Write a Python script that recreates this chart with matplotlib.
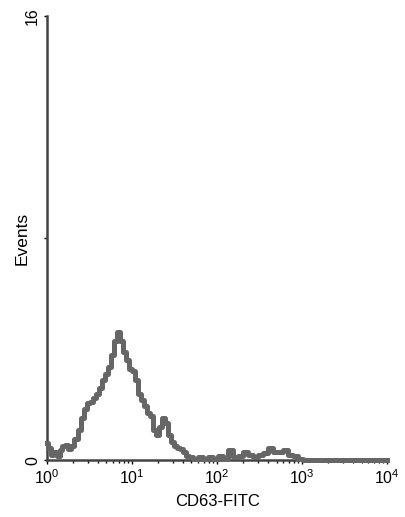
import matplotlib
matplotlib.use("Agg")
import matplotlib.pyplot as plt
from matplotlib.ticker import LogLocator, FixedLocator, NullFormatter

plt.rcParams['font.family'] = ['Liberation Sans', 'DejaVu Sans']
plt.rcParams['mathtext.fontset'] = 'custom'
plt.rcParams['mathtext.rm'] = 'Liberation Sans'

# CD63-FITC fluorescence (bin positions) and event counts
fluor = [1.0, 1.06, 1.145, 1.24, 1.35, 1.46, 1.58, 1.72, 1.86, 2.02, 2.19, 2.38,
         2.58, 2.80, 3.04, 3.29, 3.57, 3.87, 4.20, 4.56, 4.94, 5.36, 5.82, 6.31,
         6.84, 7.42, 8.05, 8.73, 9.47, 10.3, 11.1, 12.1, 13.1, 14.2, 15.4, 16.7,
         18.2, 19.7, 21.3, 23.2, 25.1, 27.2, 29.6, 32.1, 34.8, 37.7, 40.9, 44.4,
         48.1, 55, 63, 72, 83, 95, 108, 124, 142, 163, 186, 214, 245, 280, 321,
         367, 421, 481, 551, 631, 722, 827, 947, 1084, 10000]
events = [0.6, 0.45, 0.2, 0.3, 0.15, 0.35, 0.5, 0.55, 0.4, 0.5, 0.75, 1.1,
          1.5, 1.85, 2.05, 2.1, 2.25, 2.4, 2.6, 2.9, 3.1, 3.35, 3.8, 4.3,
          4.6, 4.3, 3.9, 3.6, 3.3, 3.2, 2.9, 2.4, 2.15, 1.95, 1.7, 1.6,
          1.1, 0.9, 1.2, 1.5, 1.35, 0.9, 0.65, 0.5, 0.45, 0.4, 0.3, 0.15,
          0.1, 0.05, 0.1, 0.05, 0.1, 0.05, 0.15, 0.05, 0.35, 0.1, 0.15, 0.3, 0.2, 0.1, 0.2,
          0.25, 0.45, 0.3, 0.3, 0.35, 0.2, 0.15, 0.05, 0.0, 0.0]

y_ticks = [0, 8, 16]
y_labels = ['0', '', '16']

fig = plt.figure(figsize=(4.05, 5.17), dpi=100)
ax = fig.add_axes([0.116, 0.110, 0.840, 0.859])

ax.step(fluor, events, where='mid', color='#666666', lw=3.6, clip_on=False, zorder=3)

ax.set_xscale('log')
ax.set_xlim(1, 1e4)
ax.set_ylim(0, 16)

ax.spines['top'].set_visible(False)
ax.spines['right'].set_visible(False)
for s in ('left', 'bottom'):
    ax.spines[s].set_color('#444444')
    ax.spines[s].set_linewidth(1.8)

ax.xaxis.set_major_locator(LogLocator(base=10, numticks=10))
ax.xaxis.set_minor_locator(LogLocator(base=10, subs=range(2, 10), numticks=10))
ax.xaxis.set_minor_formatter(NullFormatter())
ax.tick_params(axis='x', which='major', length=3, width=1, labelsize=11.5, pad=3)
ax.tick_params(axis='x', which='minor', length=2, width=1)

ax.yaxis.set_major_locator(FixedLocator(y_ticks))
ax.set_yticklabels(y_labels, rotation=90, va='center')
ax.tick_params(axis='y', length=2, width=1, labelsize=11.5, pad=3)

ax.set_xlabel('CD63-FITC', fontsize=12, labelpad=5)
ax.set_ylabel('Events', fontsize=12.5)
ax.yaxis.set_label_coords(-0.05, 0.5)

fig.savefig('out.png', dpi=100)
